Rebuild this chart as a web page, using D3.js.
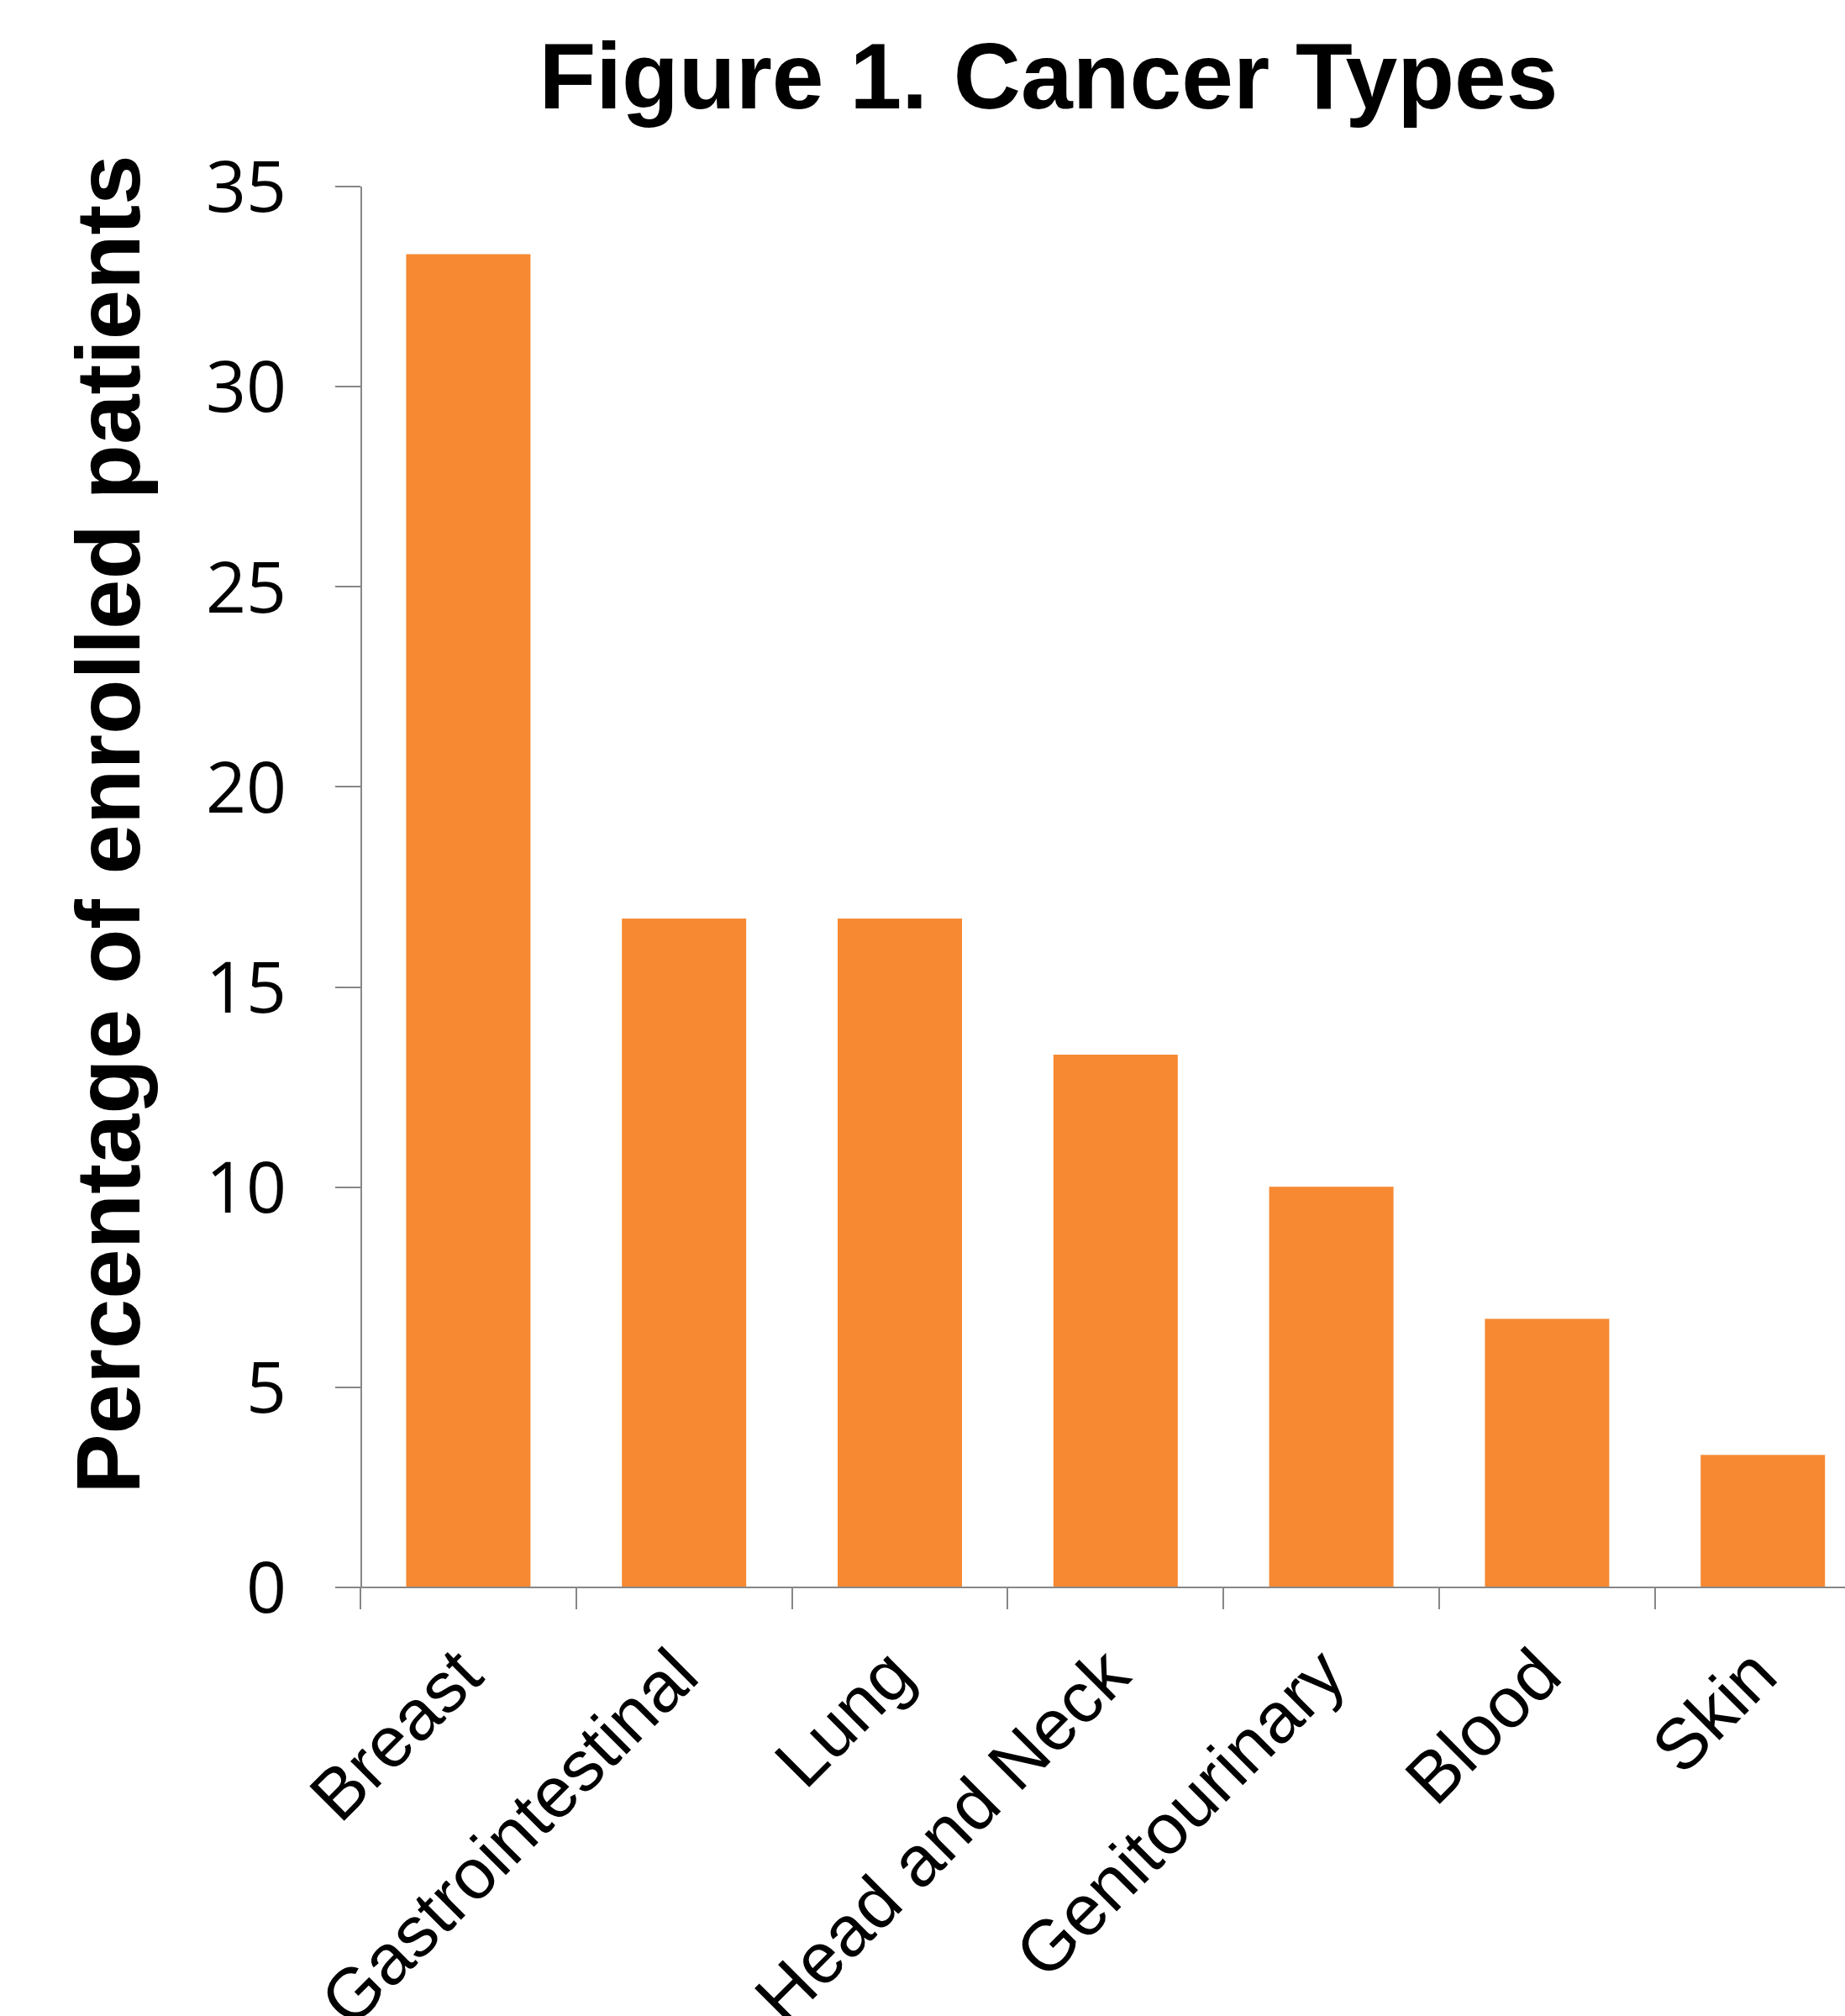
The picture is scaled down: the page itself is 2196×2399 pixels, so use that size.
<!DOCTYPE html>
<html>
<head>
<meta charset="utf-8">
<script src="https://cdn.jsdelivr.net/npm/d3@7"></script>
<style>
  html, body { margin: 0; padding: 0; background: #ffffff; }
  svg { display: block; }
</style>
</head>
<body>
<script>
// Share of enrolled patients by cancer type (percent)
const categories = ["Breast", "Gastrointestinal", "Lung", "Head and Neck", "Genitourinary", "Blood", "Skin"];
const percentages = [33.3, 16.7, 16.7, 13.3, 10.0, 6.7, 3.3];
const yTicks = [0, 5, 10, 15, 20, 25, 30, 35];

const titleText = "Figure 1. Cancer Types";
const yLabelText = "Percentage of enrolled patients";

const W = 2196, H = 2399;
const plotLeft = 429, plotTop = 221.5, plotBottom = 1888.5;
const step = 256.8;
const axisColor = "#878787";
const barColor = "#F68932";

const svg = d3.select("body").append("svg")
  .attr("width", W).attr("height", H)
  .attr("viewBox", `0 0 ${W} ${H}`);

svg.append("rect").attr("width", W).attr("height", H).attr("fill", "#fff");

const x = d3.scaleBand()
  .domain(categories)
  .range([plotLeft, plotLeft + step * categories.length])
  .paddingInner(0.4237)
  .paddingOuter(0.4237 / 2);

const y = d3.scaleLinear()
  .domain([0, 35])
  .range([plotBottom, plotTop]);

// Bars
svg.append("g")
  .selectAll("rect")
  .data(categories.map((c, i) => ({ c, v: percentages[i] })))
  .join("rect")
  .attr("x", d => x(d.c))
  .attr("width", x.bandwidth())
  .attr("y", d => y(d.v))
  .attr("height", d => y(0) - y(d.v))
  .attr("fill", barColor);

// Y axis
const yAxis = svg.append("g")
  .attr("transform", `translate(${plotLeft},0)`)
  .call(d3.axisLeft(y).tickValues(yTicks).tickSize(30).tickSizeOuter(0).tickPadding(58));
yAxis.select(".domain").attr("stroke", axisColor).attr("stroke-width", 2);
yAxis.selectAll(".tick line").attr("stroke", axisColor).attr("stroke-width", 2);
yAxis.selectAll(".tick text")
  .attr("fill", "#000")
  .attr("font-family", "'Open Sans', 'Noto Sans', sans-serif")
  .attr("font-size", 84)
  .attr("dy", "0.36em");

// X axis: labels centred on bands, tick marks on band boundaries
const xAxis = svg.append("g")
  .attr("transform", `translate(0,${plotBottom})`)
  .call(d3.axisBottom(x).tickSize(0).tickSizeOuter(0));
xAxis.select(".domain").attr("stroke", axisColor).attr("stroke-width", 2);
xAxis.selectAll(".tick text")
  .attr("fill", "#000")
  .attr("font-family", "'Liberation Sans', Arial, sans-serif")
  .attr("font-size", 85)
  .attr("text-anchor", "end")
  .attr("y", 0)
  .attr("dy", "0.35em")
  .attr("transform", "translate(0,88.5) rotate(-45)");

const boundaries = d3.range(categories.length).map(i => x.range()[0] + i * x.step());
xAxis.append("g")
  .selectAll("line")
  .data(boundaries)
  .join("line")
  .attr("x1", d => d).attr("x2", d => d)
  .attr("y1", 0).attr("y2", 26.5)
  .attr("stroke", axisColor)
  .attr("stroke-width", 2);

svg.selectAll(".domain, line").attr("shape-rendering", "crispEdges");

// Title
svg.append("text")
  .attr("x", 1248).attr("y", 129)
  .attr("text-anchor", "middle")
  .attr("font-family", "'Liberation Sans', Arial, sans-serif")
  .attr("font-weight", "bold")
  .attr("font-size", 111)
  .attr("fill", "#000")
  .text(titleText);

// Y axis title
svg.append("text")
  .attr("transform", "translate(166,981) rotate(-90)")
  .attr("text-anchor", "middle")
  .attr("font-family", "'Liberation Sans', Arial, sans-serif")
  .attr("font-weight", "bold")
  .attr("font-size", 107)
  .attr("fill", "#000")
  .text(yLabelText);
</script>
</body>
</html>
